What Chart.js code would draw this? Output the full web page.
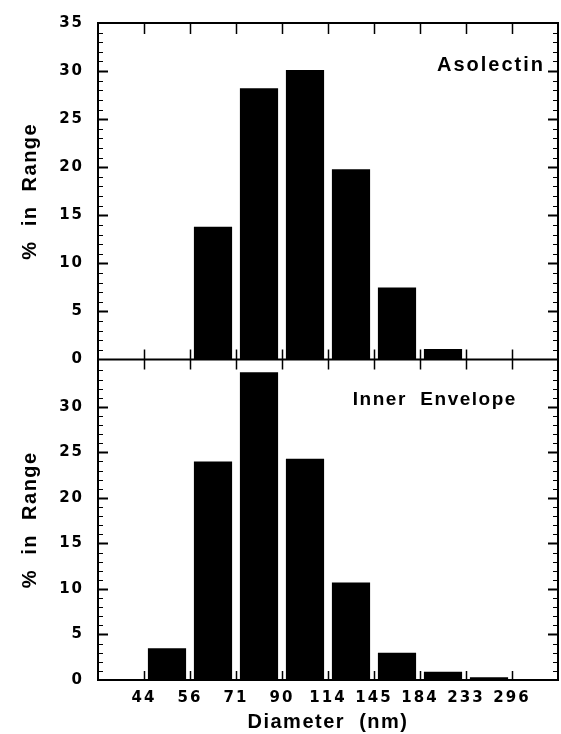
<!DOCTYPE html>
<html>
<head>
<meta charset="utf-8">
<script src="https://cdn.jsdelivr.net/npm/chart.js@4.4.1/dist/chart.umd.min.js"></script>
<style>
  html, body { margin: 0; padding: 0; background: #fff; }
</style>
</head>
<body>
<canvas id="chart" width="561" height="734"></canvas>
<script>
// bin edges in nm, drawn as x tick labels at integer positions 0..8
const binEdges = ["44", "56", "71", "90", "114", "145", "184", "233", "296"];
// bar i sits between edge i-1 and edge i (first bin is below 44, last above 296)
const binCenters = [-0.5, 0.5, 1.5, 2.5, 3.5, 4.5, 5.5, 6.5, 7.5, 8.5];
const asolectin = [0, 0, 13.8, 28.2, 30.1, 19.8, 7.5, 1.1, 0, 0];
const innerEnvelope = [0, 3.5, 24.0, 33.8, 24.3, 10.7, 3.0, 0.9, 0.3, 0];
const panelNames = ["Asolectin", "Inner  Envelope"];

const family = "'Liberation Sans', Arial, Helvetica, sans-serif";
const digitFamily = "'DejaVu Sans', 'Liberation Sans', sans-serif";

function points(values) {
   return values.map((v, i) => ({ x: binCenters[i], y: v }));
}

const framePlugin = {
   id: "frame",
   beforeDraw(chart) {
      // axis titles are drawn before datasets, tick labels after
      chart.ctx.letterSpacing = "1.5px";
   },
   afterDatasetsDraw(chart) {
      chart.ctx.letterSpacing = "2px";
   },
   afterDraw(chart) {
      const { ctx, chartArea: a, scales } = chart;
      const x = scales.x;
      const yTop = scales.yTop;
      const yBottom = scales.yBottom;
      const mid = yTop.bottom;

      ctx.save();
      ctx.strokeStyle = "#000";
      ctx.lineWidth = 2;
      ctx.strokeRect(a.left, a.top, a.right - a.left, a.bottom - a.top);
      ctx.beginPath();
      ctx.moveTo(a.left, mid);
      ctx.lineTo(a.right, mid);
      ctx.stroke();

      // inward y ticks, every 1 %, longer every 5 %
      [[yTop, 35], [yBottom, 35]].forEach(([s, top]) => {
         for (let v = 1; v < top; v++) {
            const py = Math.round(s.getPixelForValue(v)) + 0.5;
            const major = v % 5 === 0;
            const len = major ? 10 : 5;
            ctx.lineWidth = major ? 2 : 1.2;
            ctx.beginPath();
            ctx.moveTo(a.left, py);
            ctx.lineTo(a.left + len, py);
            ctx.moveTo(a.right, py);
            ctx.lineTo(a.right - len, py);
            ctx.stroke();
         }
      });

      // x ticks on the top border, across the middle line and on the bottom axis
      ctx.lineWidth = 1.5;
      for (let i = 0; i < binEdges.length; i++) {
         const px = Math.round(x.getPixelForValue(i)) + 0.5;
         ctx.beginPath();
         ctx.moveTo(px, a.top);
         ctx.lineTo(px, a.top + 11);
         ctx.moveTo(px, mid - 10);
         ctx.lineTo(px, mid + 10);
         ctx.moveTo(px, a.bottom);
         ctx.lineTo(px, a.bottom - 9);
         ctx.stroke();
      }

      // panel names
      ctx.fillStyle = "#000";
      ctx.textAlign = "left";
      ctx.textBaseline = "alphabetic";
      ctx.font = "bold 20px " + family;
      ctx.letterSpacing = "2px";
      ctx.fillText(panelNames[0], x.getPixelForValue(6.37), yTop.getPixelForValue(30));
      ctx.font = "bold 19px " + family;
      ctx.letterSpacing = "1.5px";
      ctx.fillText(panelNames[1], x.getPixelForValue(4.54), yBottom.getPixelForValue(30.2));
      ctx.restore();
      ctx.letterSpacing = "0px";
   },
};

const tickFont = { family: digitFamily, size: 15, weight: "bold" };
const titleFont = { family: family, size: 20, weight: "bold" };

function yScale(max, weight, stackWeight, hideTop) {
   return {
      type: "linear",
      position: "left",
      stack: "panels",
      stackWeight: stackWeight,
      weight: weight,
      min: 0,
      max: max,
      offset: false,
      grid: { display: false, drawTicks: false },
      border: { display: false },
      ticks: {
         stepSize: 5,
         padding: 14,
         color: "#000",
         font: tickFont,
         z: 1,
         callback: (v) => (hideTop && v >= 35 ? "" : v % 5 === 0 ? String(v) : ""),
      },
      title: {
         display: true,
         text: "%  in  Range",
         color: "#000",
         font: titleFont,
         padding: { top: 18, bottom: 0 },
      },
      afterFit: (s) => {
         s.width = 98;
      },
   };
}

new Chart(document.getElementById("chart"), {
   type: "bar",
   data: {
      datasets: [
         {
            label: panelNames[0],
            data: points(asolectin),
            yAxisID: "yTop",
            backgroundColor: "#000",
            borderWidth: 0,
            grouped: false,
            categoryPercentage: 1,
            barPercentage: 0.83,
         },
         {
            label: panelNames[1],
            data: points(innerEnvelope),
            yAxisID: "yBottom",
            backgroundColor: "#000",
            borderWidth: 0,
            grouped: false,
            categoryPercentage: 1,
            barPercentage: 0.83,
         },
      ],
   },
   options: {
      responsive: false,
      animation: false,
      layout: { padding: { top: 22, right: 3, bottom: 0, left: 0 } },
      plugins: {
         legend: { display: false },
         tooltip: { enabled: false },
      },
      scales: {
         x: {
            type: "linear",
            position: "bottom",
            min: -1,
            max: 9,
            offset: false,
            grid: { display: false, drawTicks: false },
            border: { display: false },
            ticks: {
               stepSize: 1,
               autoSkip: false,
               maxRotation: 0,
               padding: 9,
               color: "#000",
               font: tickFont,
               z: 1,
               callback: (v) => binEdges[v] ?? "",
            },
            title: {
               display: true,
               text: "Diameter  (nm)",
               color: "#000",
               font: titleFont,
               padding: { top: 0, bottom: 0 },
            },
            afterFit: (s) => {
               s.height = 54;
               s.paddingLeft = 0;
               s.paddingRight = 0;
            },
         },
         yTop: yScale(35, 1, 337, false),
         yBottom: yScale(35.2, 0, 321, true),
      },
   },
   plugins: [framePlugin],
});
</script>
</body>
</html>
